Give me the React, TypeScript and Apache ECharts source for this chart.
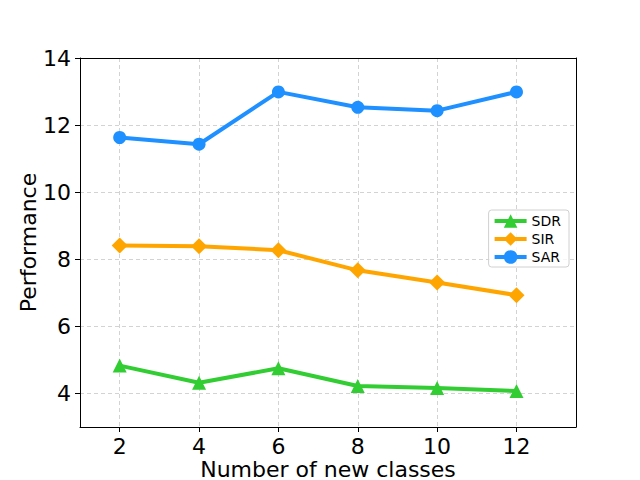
import React, { useEffect, useRef } from "react";
import * as echarts from "echarts";

const xValues = [2, 4, 6, 8, 10, 12];
const sdr = [4.83, 4.32, 4.75, 4.22, 4.16, 4.07];
const sir = [8.41, 8.39, 8.27, 7.67, 7.31, 6.93];
const sar = [11.63, 11.43, 12.99, 12.53, 12.43, 12.99];
const xTicks = [2, 4, 6, 8, 10, 12];
const yTicks = [4, 6, 8, 10, 12, 14];

const FONT = "DejaVu Sans";
const X_MIN = 1;
const X_MAX = 13.5;
const Y_MIN = 3;
const Y_MAX = 14;

export default function App() {
  const ref = useRef<HTMLDivElement>(null);
  useEffect(() => {
    const chart = echarts.init(ref.current!, null, { renderer: "svg" });
    const mk = (name: string, data: number[], color: string, symbol: string, size: number) => ({
      name,
      type: "line",
      data: xValues.map((x, i) => [x, data[i]]),
      symbol,
      symbolSize: size,
      showSymbol: true,
      lineStyle: { color, width: 4 },
      itemStyle: { color },
      z: 3,
    });
    const frame = { show: true, lineStyle: { color: "#000", width: 1 } };
    chart.setOption({
      animation: false,
      grid: {
        left: 80,
        right: 64,
        top: 58,
        bottom: 53,
        outerBoundsMode: "none",
        containLabel: false,
      },
      legend: {
        orient: "vertical",
        right: 71,
        top: 210,
        itemWidth: 32,
        itemHeight: 17,
        itemGap: 4,
        padding: [4, 8, 3, 4],
        borderColor: "#d0d0d0",
        borderWidth: 1,
        borderRadius: 3,
        backgroundColor: "rgba(255,255,255,0.8)",
        lineStyle: { width: 4 },
        textStyle: { fontFamily: FONT, fontSize: 14, color: "#000" },
        data: ["SDR", "SIR", "SAR"],
      },
      xAxis: [
        {
          type: "value",
          min: X_MIN,
          max: X_MAX,
          name: "Number of new classes",
          nameLocation: "middle",
          nameGap: 31,
          nameMoveOverlap: false,
          nameTextStyle: { fontFamily: FONT, fontSize: 22, color: "#000" },
          axisLine: frame,
          axisTick: { show: true, length: 5, customValues: xTicks, lineStyle: { color: "#000" } },
          axisLabel: {
            customValues: xTicks,
            margin: 8,
            fontFamily: FONT,
            fontSize: 22,
            color: "#000",
          },
          splitLine: { show: true, lineStyle: { color: "#d3d3d3", type: [4, 3], width: 1 } },
        },
        {
          type: "value",
          position: "top",
          min: X_MIN,
          max: X_MAX,
          axisLine: frame,
          axisTick: { show: false },
          axisLabel: { show: false },
          splitLine: { show: false },
        },
      ],
      yAxis: [
        {
          type: "value",
          min: Y_MIN,
          max: Y_MAX,
          name: "Performance",
          nameLocation: "middle",
          nameGap: 41,
          nameMoveOverlap: false,
          nameTextStyle: { fontFamily: FONT, fontSize: 22, color: "#000" },
          axisLine: frame,
          axisTick: { show: true, length: 5, customValues: yTicks, lineStyle: { color: "#000" } },
          axisLabel: { customValues: yTicks, margin: 9, fontFamily: FONT, fontSize: 22, color: "#000" },
          splitLine: { show: true, lineStyle: { color: "#d3d3d3", type: [4, 3], width: 1 } },
        },
        {
          type: "value",
          position: "right",
          min: Y_MIN,
          max: Y_MAX,
          axisLine: frame,
          axisTick: { show: false },
          axisLabel: { show: false },
          splitLine: { show: false },
        },
      ],
      series: [
        mk("SDR", sdr, "#32cd32", "triangle", 14),
        mk("SIR", sir, "#ffa500", "diamond", 16),
        mk("SAR", sar, "#1e90ff", "circle", 13),
      ],
    });
    return () => chart.dispose();
  }, []);
  return (
    <div
      ref={ref}
      style={{ position: "absolute", left: 0, top: 0, width: 640, height: 480, background: "#fff" }}
    />
  );
}
